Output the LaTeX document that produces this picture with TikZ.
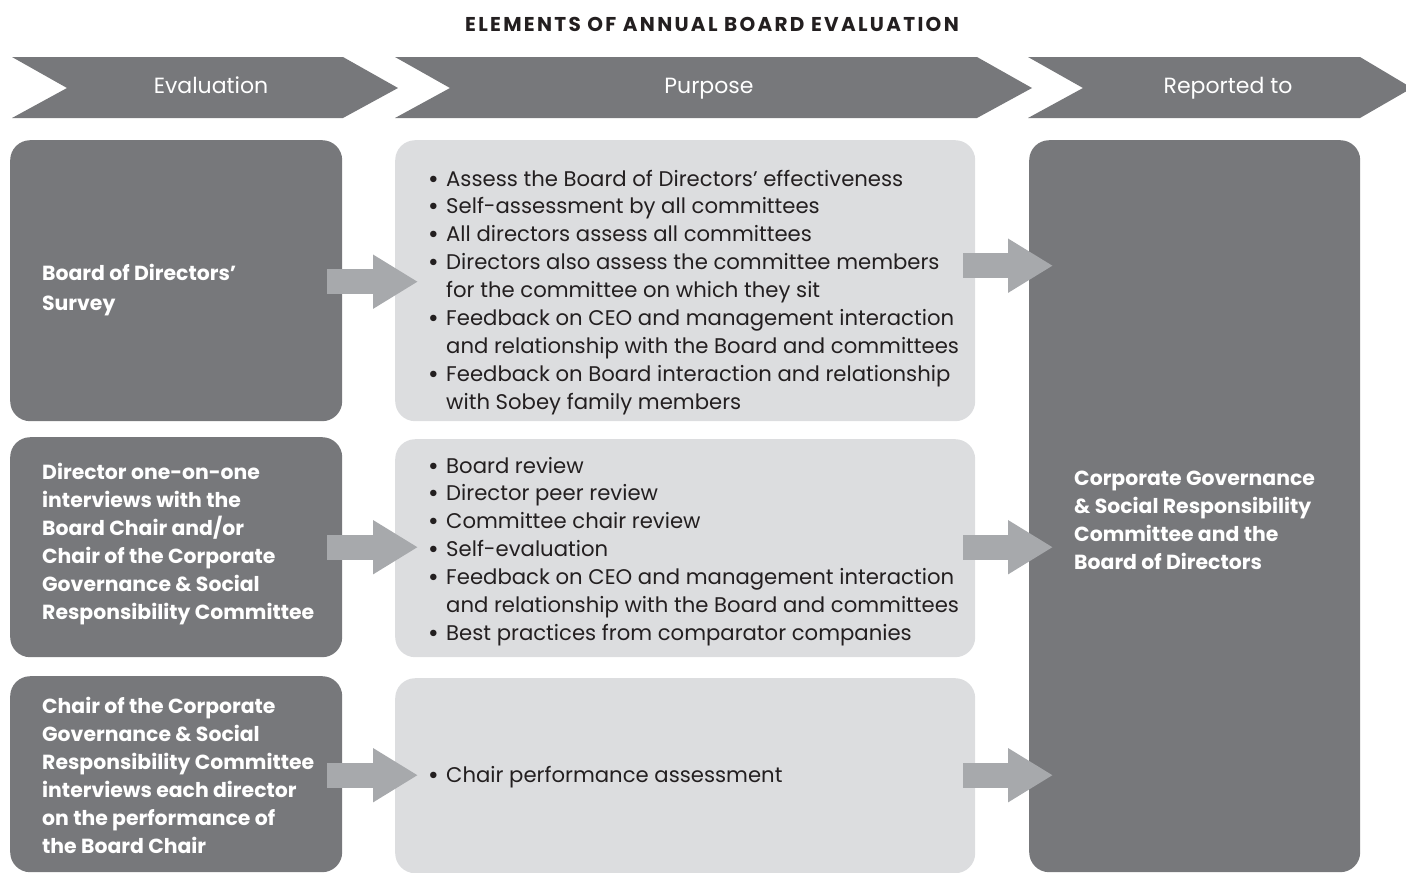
\documentclass[tikz,border=0pt]{standalone}
\usepackage{fontspec}
\setmainfont{Poppins}
\usetikzlibrary{arrows.meta,calc}
\definecolor{dk}{HTML}{77787B}
\definecolor{lt}{HTML}{DCDDDF}
\definecolor{ar}{HTML}{A7A9AC}
\definecolor{tx}{HTML}{231F20}
\newcommand\bu{\makebox[18pt][l]{\bfseries\textbullet}}
\begin{document}
\begin{tikzpicture}[x=1pt,y=-1pt,
  dkbox/.style={fill=dk, rounded corners=20pt, anchor=north west, inner sep=0pt},
  ltbox/.style={fill=lt, rounded corners=20pt, anchor=north west, inner sep=0pt},
  chev/.style={fill=dk},
  hdr/.style={text=white, anchor=base, inner sep=0pt, font=\fontsize{22}{26}\selectfont},
  ltxt/.style={text=white, anchor=base west, inner sep=0pt, font=\bfseries\fontsize{20.4}{28}\selectfont},
  mtxt/.style={text=tx, anchor=base west, inner sep=0pt, font=\fontsize{21.2}{27.9}\selectfont},
  blk/.style={draw=ar, line width=25pt, -{Triangle[length=45pt,width=51pt]}}
]
\useasboundingbox (0,0) rectangle (1406,873);
% title
\node[text=tx, font=\bfseries\fontsize{20}{24}\selectfont\addfontfeature{LetterSpace=11.5}] (title) at (712,24) {ELEMENTS OF ANNUAL BOARD EVALUATION};
% chevrons
\fill[chev] (12,57) -- (343,57) -- (398,88) -- (343,118) -- (12,118) -- (67,88) -- cycle;
\fill[chev] (395,57) -- (977,57) -- (1032,88) -- (977,118) -- (395,118) -- (450,88) -- cycle;
\fill[chev] (1028,57) -- (1360,57) -- (1412,88) -- (1360,118) -- (1028,118) -- (1083,88) -- cycle;
\node[hdr] (h1) at (211,93) {Evaluation};
\node[hdr] (h2) at (709,93) {Purpose};
\node[hdr] (h3) at (1228,93) {Reported to};
% boxes
\node[dkbox, minimum width=332, minimum height=281] (lb1) at (10,140) {};
\node[dkbox, minimum width=332, minimum height=220] (lb2) at (10,437) {};
\node[dkbox, minimum width=332, minimum height=196] (lb3) at (10,676) {};
\node[ltbox, minimum width=580, minimum height=281] (mb1) at (395,140) {};
\node[ltbox, minimum width=580, minimum height=218] (mb2) at (395,439) {};
\node[ltbox, minimum width=580, minimum height=195] (mb3) at (395,678) {};
\node[dkbox, minimum width=331, minimum height=732] (rb) at (1029,140) {};
% arrows
\coordinate (r1) at ($(rb.west)+(24,0)$);
\draw[blk] ($(lb1.east)+(-15,1)$) -- ($(mb1.west)+(23,1)$);
\coordinate (t1) at ($(mb1.east)+(-12,-15)$);
\draw[blk] (t1) -- (r1 |- t1);
\draw[blk] ($(lb2.east)+(-15,0)$) -- ($(mb2.west)+(23,-1)$);
\coordinate (t2) at ($(mb2.east)+(-12,-1)$);
\draw[blk] (t2) -- (r1 |- t2);
\draw[blk] ($(lb3.east)+(-15,1)$) -- ($(mb3.west)+(23,-0.5)$);
\coordinate (t3) at ($(mb3.east)+(-12,-0.5)$);
\draw[blk] (t3) -- (r1 |- t3);
% left texts
\node[ltxt] (l1) at (42,280) {\begin{tabular}[t]{@{}l@{}}Board of Directors'\\[2pt] Survey\end{tabular}};
\node[ltxt] (l2) at (42,479) {\begin{tabular}[t]{@{}l@{}}Director one-on-one\\ interviews with the\\ Board Chair and/or\\ Chair of the Corporate\\ Governance \& Social\\ Responsibility Committee\end{tabular}};
\node[ltxt] (l3) at (42,713) {\begin{tabular}[t]{@{}l@{}}Chair of the Corporate\\ Governance \& Social\\ Responsibility Committee\\ interviews each director\\ on the performance of\\ the Board Chair\end{tabular}};
% middle texts
\node[mtxt] (m1) at (428,186) {\begin{tabular}[t]{@{}l@{}l@{}}
\bu & Assess the Board of Directors' effectiveness\\
\bu & Self-assessment by all committees\\
\bu & All directors assess all committees\\
\bu & Directors also assess the committee members\\
    & for the committee on which they sit\\
\bu & Feedback on CEO and management interaction\\
    & and relationship with the Board and committees\\
\bu & Feedback on Board interaction and relationship\\
    & with Sobey family members
\end{tabular}};
\node[mtxt] (m2) at (428,473) {\begin{tabular}[t]{@{}l@{}l@{}}
\bu & Board review\\
\bu & Director peer review\\
\bu & Committee chair review\\
\bu & Self-evaluation\\
\bu & Feedback on CEO and management interaction\\
    & and relationship with the Board and committees\\
\bu & Best practices from comparator companies
\end{tabular}};
\node[mtxt] (m3) at (428,782) {\begin{tabular}[t]{@{}l@{}l@{}}
\bu & Chair performance assessment
\end{tabular}};
% right text
\node[ltxt] (r) at (1074,485) {\begin{tabular}[t]{@{}l@{}}Corporate Governance\\ \& Social Responsibility\\ Committee and the\\ Board of Directors\end{tabular}};
\end{tikzpicture}
\end{document}
